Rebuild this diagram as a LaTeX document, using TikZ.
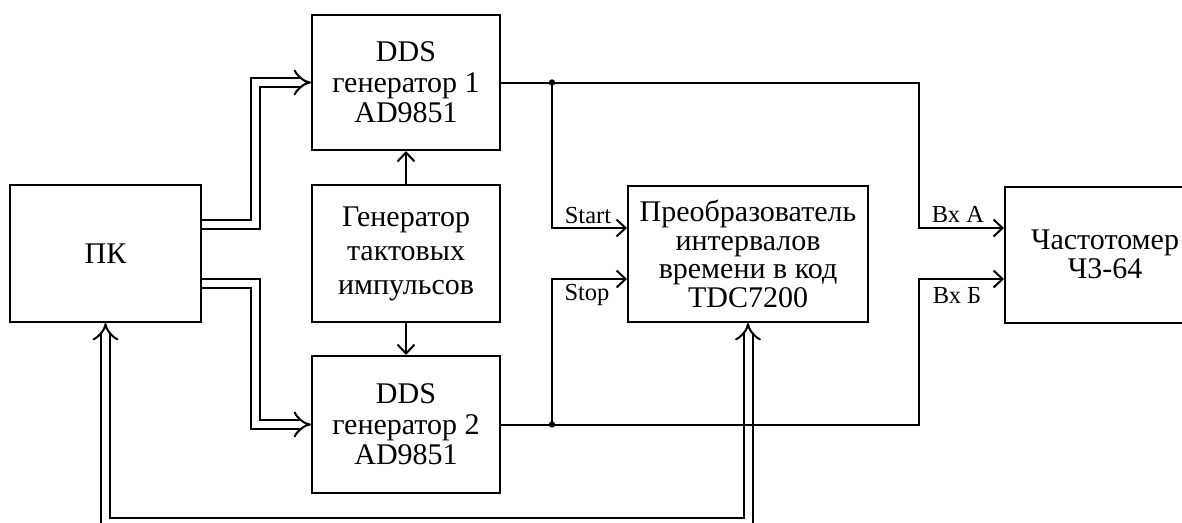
\documentclass[tikz,border=0pt]{standalone}
\usepackage{fontspec}
\setmainfont{Liberation Serif}
\usetikzlibrary{arrows.meta}
\begin{document}
\begin{tikzpicture}[x=1pt,y=-1pt,
  box/.style={draw, line width=2pt, inner sep=0pt, font=\fontsize{30}{30.5}\selectfont, align=center},
  arr/.style={line width=2pt, -{Straight Barb[length=9pt,width=17pt,line width=2pt]}},
  dbl/.style={double, double distance=7pt, line width=2pt, line join=miter},
  dtip/.tip={Implies[scale=1.35]},
  lbl/.style={font=\fontsize{24.5}{24.5}\selectfont, inner sep=0pt, anchor=base}]
\useasboundingbox (0,0) rectangle (1182,522);
\clip (0,0) rectangle (1182,522);
% blocks
\node[box, minimum width=191pt, minimum height=137pt] (pc) at (105.5,253.5) {ПК};
\node[box, minimum width=188pt, minimum height=135pt] (dds1) at (406,82.5) {DDS\\генератор 1\\AD9851};
\node[box, minimum width=188pt, minimum height=137pt, font=\fontsize{30}{34}\selectfont] (clk) at (406,253.5) {Генератор\\тактовых\\импульсов};
\node[box, minimum width=240pt, minimum height=136pt, font=\fontsize{30}{28.5}\selectfont] (tdc) at (748,254) {Преобразователь\\интервалов\\времени в код\\TDC7200};
\node[box, minimum width=188pt, minimum height=137pt] (dds2) at (406,424.5) {DDS\\генератор 2\\AD9851};
\node[box, minimum width=200pt, minimum height=136pt, text width=200pt, font=\fontsize{30}{29}\selectfont] (chast) at (1105,254.5) {Частотомер\\Ч3-64};
% double buses
\draw[dbl, -dtip] ([yshift=29.5pt]pc.east) -| ([xshift=-55.5pt]dds1.west) -- (dds1.west);
\draw[dbl, -dtip] ([yshift=-29.5pt]pc.east) -| ([xshift=-55.5pt]dds2.west) -- (dds2.west);
\draw[dbl, dtip-dtip] (pc.south) -- ++(0,199) -| (tdc.south);
% clock
\draw[arr] (clk.north) -- (dds1.south);
\draw[arr] (clk.south) -- (dds2.north);
% outputs
\path (dds1.east) -- ++(51,0) coordinate (j1);
\path (dds2.east) -- ++(51,0) coordinate (j2);
\draw[arr] (dds1.east) -| ([xshift=-85pt,yshift=26.5pt]chast.west) -- ([yshift=26.5pt]chast.west);
\draw[arr] (dds2.east) -| ([xshift=-85pt,yshift=-24.5pt]chast.west) -- ([yshift=-24.5pt]chast.west);
\draw[arr] (j1) |- ([yshift=26pt]tdc.west);
\draw[arr] (j2) |- ([yshift=-25pt]tdc.west);
\fill (j1) circle (3.2pt);
\fill (j2) circle (3.2pt);
% labels
\node[lbl] (lstart) at (588,223) {Start};
\node[lbl] (lstop) at (587,300) {Stop};
\node[lbl] (lva) at (958,222) {Вх А};
\node[lbl] (lvb) at (957,303) {Вх Б};
\end{tikzpicture}
\end{document}
